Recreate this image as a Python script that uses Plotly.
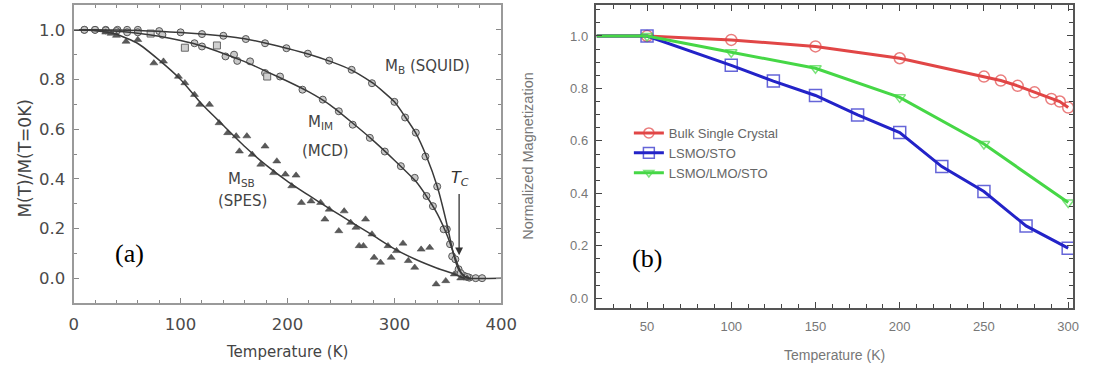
import plotly.graph_objects as go

# ---------------- Panel (a) data ----------------
SQUID_T = [10, 20, 30, 41, 50, 60, 80, 100, 120, 140, 161, 179, 199, 219, 239, 260, 279, 300,
           310, 320, 329, 340, 349, 354, 360, 365, 370, 376, 382]
SQUID_M = [1.0, 1.0, 1.0, 1.0, 1.0, 1.0, 0.995, 0.99, 0.983, 0.976, 0.963, 0.946, 0.926, 0.904,
           0.876, 0.839, 0.785, 0.71, 0.647, 0.586, 0.49, 0.369, 0.197, 0.088, 0.036, 0.01, 0.002, 0.0, 0.0]
SQUID_FIT_T = [0, 20, 40, 60, 80, 100, 120, 140, 160, 180, 200, 220, 240, 260, 280, 300, 310, 320,
               330, 340, 350, 355, 360, 365, 370, 400]
SQUID_FIT_M = [1.0, 1.0, 0.999, 0.997, 0.994, 0.989, 0.983, 0.975, 0.964, 0.946, 0.925, 0.902, 0.873,
               0.838, 0.785, 0.71, 0.65, 0.584, 0.49, 0.37, 0.2, 0.1, 0.035, 0.008, 0.0, 0.0]

MCD_T = [10, 20, 30, 40, 50, 60, 83, 113, 120, 142, 150, 153, 165, 179, 193, 214, 233, 248, 261,
         277, 291, 306, 319, 330, 336, 346, 352, 357, 362, 368]
MCD_M = [1.0, 1.0, 0.998, 0.995, 0.99, 0.99, 0.98, 0.946, 0.933, 0.893, 0.9, 0.875, 0.873, 0.826,
         0.812, 0.759, 0.719, 0.672, 0.618, 0.565, 0.51, 0.451, 0.404, 0.331, 0.29, 0.197, 0.137,
         0.076, 0.02, 0.005]
MCD_SQ_T = [72, 104, 134, 181]
MCD_SQ_M = [0.985, 0.928, 0.937, 0.812]
MCD_FIT_T = [0, 20, 40, 60, 80, 100, 120, 140, 160, 180, 200, 220, 240, 260, 280, 300, 320, 330,
             340, 350, 357, 362, 366, 370]
MCD_FIT_M = [1.0, 0.998, 0.994, 0.986, 0.974, 0.957, 0.935, 0.905, 0.872, 0.833, 0.793, 0.75, 0.697,
             0.628, 0.555, 0.475, 0.39, 0.33, 0.26, 0.165, 0.08, 0.025, 0.006, 0.0]

SPES_T = [30, 35, 40, 49, 60, 75, 84, 98, 104, 113, 118, 127, 136, 144, 152, 155, 162, 167, 175,
          179, 187, 190, 198, 204, 208, 213, 222, 231, 235, 239, 248, 253, 259, 264, 267, 271, 273,
          279, 281, 287, 294, 297, 302, 308, 313, 319, 325, 333, 339, 348, 356, 362, 368]
SPES_M = [0.99, 0.985, 0.977, 0.953, 0.96, 0.866, 0.873, 0.812, 0.786, 0.739, 0.699, 0.699, 0.625,
          0.585, 0.572, 0.511, 0.572, 0.498, 0.458, 0.531, 0.424, 0.471, 0.418, 0.371, 0.414, 0.304,
          0.31, 0.304, 0.237, 0.277, 0.19, 0.27, 0.224, 0.204, 0.13, 0.13, 0.237, 0.177, 0.083,
          0.063, 0.13, 0.083, 0.11, 0.14, 0.07, 0.043, 0.116, 0.123, -0.024, -0.011, 0.016, 0.0, 0.0]
SPES_FIT_T = [0, 20, 40, 60, 80, 100, 120, 140, 160, 180, 200, 220, 240, 260, 280, 300, 320, 340,
              355, 362, 366]
SPES_FIT_M = [1.0, 0.996, 0.982, 0.945, 0.878, 0.8, 0.7, 0.615, 0.53, 0.455, 0.39, 0.333, 0.278,
              0.225, 0.172, 0.118, 0.075, 0.04, 0.018, 0.005, 0.0]

# ---------------- Panel (b) data ----------------
BULK_T = [20, 50, 100, 150, 200, 250, 260, 270, 280, 290, 295, 300]
BULK_M = [1.0, 1.0, 0.985, 0.96, 0.915, 0.845, 0.83, 0.81, 0.785, 0.76, 0.75, 0.727]
LSMO_T = [20, 50, 100, 125, 150, 175, 200, 225, 250, 275, 300]
LSMO_M = [1.0, 1.0, 0.888, 0.828, 0.773, 0.699, 0.632, 0.502, 0.407, 0.276, 0.191]
LMO_T = [20, 50, 100, 150, 200, 250, 300]
LMO_M = [1.0, 1.0, 0.938, 0.877, 0.766, 0.588, 0.365]
SERIES_NAMES = ["Bulk Single Crystal", "LSMO/STO", "LSMO/LMO/STO"]

W, H = 1101, 371
A_FONT = "DejaVu Sans"
B_FONT = "Liberation Sans, Arial"


def px(xp):
    return xp / W


def py(yp):
    return (H - yp) / H


fig = go.Figure()

# ---- panel (a) markers ----
marker_a = dict(symbol="circle", size=7, color="#c8c8c8", line=dict(color="#555", width=1))
fig.add_trace(go.Scatter(x=SQUID_T, y=SQUID_M, mode="markers", marker=marker_a,
                         xaxis="x", yaxis="y", showlegend=False))
fig.add_trace(go.Scatter(x=MCD_T, y=MCD_M, mode="markers", marker=marker_a,
                         xaxis="x", yaxis="y", showlegend=False))
fig.add_trace(go.Scatter(x=MCD_SQ_T, y=MCD_SQ_M, mode="markers",
                         marker=dict(symbol="square", size=7, color="#d0d0d0",
                                     line=dict(color="#666", width=1)),
                         xaxis="x", yaxis="y", showlegend=False))
fig.add_trace(go.Scatter(x=SPES_T, y=SPES_M, mode="markers",
                         marker=dict(symbol="triangle-up", size=7, color="#5a5a5a",
                                     line=dict(color="#444", width=0.5)),
                         xaxis="x", yaxis="y", showlegend=False))
# ---- panel (a) fitted curves ----
for tt, mm in [(SQUID_FIT_T, SQUID_FIT_M), (MCD_FIT_T, MCD_FIT_M), (SPES_FIT_T, SPES_FIT_M)]:
    fig.add_trace(go.Scatter(x=tt, y=mm, mode="lines",
                             line=dict(color="#3a3a3a", width=1.5, shape="spline", smoothing=0.5),
                             xaxis="x", yaxis="y", showlegend=False))

# ---- panel (b) ----
b_styles = [
    dict(color="rgb(225,70,70)", symbol="circle-open", size=11),
    dict(color="rgb(35,35,200)", symbol="square-open", size=12),
    dict(color="rgb(70,215,70)", symbol="triangle-down-open", size=10),
]
for (tt, mm), name, st in zip([(BULK_T, BULK_M), (LSMO_T, LSMO_M), (LMO_T, LMO_M)],
                              SERIES_NAMES, b_styles):
    sizes = [0 if t < 30 else st["size"] for t in tt]
    fig.add_trace(go.Scatter(
        x=tt, y=mm, mode="lines+markers", name=name,
        line=dict(color=st["color"], width=3),
        marker=dict(symbol=st["symbol"], size=sizes, color=st["color"],
                    line=dict(color=st["color"], width=1.5)),
        xaxis="x2", yaxis="y2"))

axis_a = dict(showline=True, linecolor="#9a9a9a", linewidth=2, mirror="allticks",
              ticks="inside", ticklen=5, tickwidth=1, tickcolor="#888",
              showgrid=False, zeroline=False,
              tickfont=dict(family=A_FONT, size=16.5, color="#4a4a4a"))
axis_b = dict(showline=True, linecolor="#555", linewidth=1.5, mirror="allticks",
              ticks="inside", ticklen=6, tickwidth=1.2, tickcolor="#444",
              showgrid=False, zeroline=False,
              tickfont=dict(family=B_FONT, size=13, color="#777"))

fig.update_layout(
    width=W, height=H, margin=dict(l=0, r=0, t=0, b=0),
    paper_bgcolor="white", plot_bgcolor="white",
    xaxis=dict(domain=[px(70), px(506)], range=[0, 400], dtick=100, anchor="y",
               ticklabelstandoff=5,
               minor=dict(dtick=20, ticks="inside", ticklen=3, tickcolor="#888"), **axis_a),
    yaxis=dict(domain=[py(303), py(5)], range=[-0.1, 1.1], dtick=0.2, tickformat=".1f",
               anchor="x", ticklabelstandoff=3,
               minor=dict(dtick=0.1, ticks="inside", ticklen=3, tickcolor="#888"), **axis_a),
    xaxis2=dict(domain=[px(603), px(1089)], range=[20, 303], tickvals=[50, 100, 150, 200, 250, 300],
                anchor="y2", ticklabelstandoff=6,
                minor=dict(dtick=10, tick0=0, ticks="inside", ticklen=4, tickcolor="#444"), **axis_b),
    yaxis2=dict(domain=[py(308), py(5)], range=[-0.037, 1.118], dtick=0.2, tickformat=".1f",
                anchor="x2", ticklabelstandoff=4,
                minor=dict(dtick=0.05, ticks="inside", ticklen=4, tickcolor="#444"), **axis_b),
    legend=dict(x=px(636), y=py(118), xanchor="left", yanchor="top",
                bgcolor="rgba(0,0,0,0)", font=dict(family=B_FONT, size=13, color="#666"),
                tracegroupgap=0, itemwidth=30),
    showlegend=True,
)

ann = []
C = dict(xanchor="center", yanchor="middle", showarrow=False)
# axis titles
ann.append(dict(text="M(T)/M(T=0K)", x=px(20), y=py(158), xref="paper", yref="paper",
                textangle=-90, font=dict(family=A_FONT, size=17, color="#444"), **C))
ann.append(dict(text="Temperature (K)", x=px(287), y=py(352), xref="paper", yref="paper",
                font=dict(family=A_FONT, size=15, color="#444"), **C))
ann.append(dict(text="Normalized Magnetization", x=px(533), y=py(156), xref="paper", yref="paper",
                textangle=-90, font=dict(family=B_FONT, size=14.5, color="#777"), **C))
ann.append(dict(text="Temperature (K)", x=px(846), y=py(355), xref="paper", yref="paper",
                font=dict(family=B_FONT, size=14, color="#777"), **C))
# panel tags
ann.append(dict(text="(a)", x=px(127), y=py(253), xref="paper", yref="paper",
                font=dict(family="Liberation Serif, Times New Roman", size=26, color="black"), **C))
ann.append(dict(text="(b)", x=px(654), y=py(258), xref="paper", yref="paper",
                font=dict(family="Liberation Serif, Times New Roman", size=26, color="black"), **C))
# curve labels in panel (a)
lab_font = dict(family=A_FONT, size=15, color="#444")
ann.append(dict(text="M<sub>B</sub> (SQUID)", x=331, y=0.851, xref="x", yref="y",
                font=lab_font, **C))
ann.append(dict(text="M<sub>IM</sub>", x=231, y=0.627, xref="x", yref="y", font=lab_font, **C))
ann.append(dict(text="(MCD)", x=236, y=0.511, xref="x", yref="y", font=lab_font, **C))
ann.append(dict(text="M<sub>SB</sub>", x=157, y=0.398, xref="x", yref="y", font=lab_font, **C))
ann.append(dict(text="(SPES)", x=158, y=0.31, xref="x", yref="y", font=lab_font, **C))
ann.append(dict(text="<i>T<sub>C</sub></i>", x=361.5, y=0.40, xref="x", yref="y",
                font=dict(family=A_FONT, size=16, color="#333"), **C))
ann.append(dict(text="", x=360.5, y=0.092, ax=360.5, ay=0.345, xref="x", yref="y",
                axref="x", ayref="y", showarrow=True, arrowhead=2, arrowsize=1.2,
                arrowwidth=1.3, arrowcolor="#333"))
fig.update_layout(annotations=ann)

fig.write_html("out.html")
